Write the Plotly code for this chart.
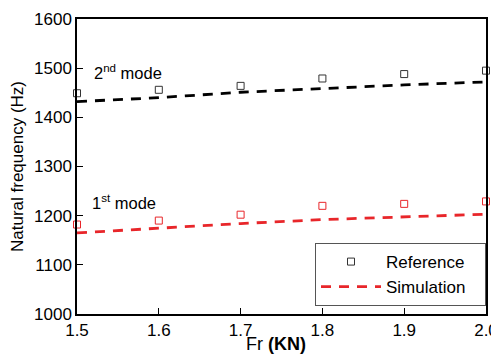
import plotly.graph_objects as go

fr = [1.5, 1.6, 1.7, 1.8, 1.9, 2.0]
ref_mode2 = [1449, 1456, 1464, 1479, 1488, 1495]
sim_mode2 = [1432, 1440, 1451, 1459, 1466, 1472]
ref_mode1 = [1182, 1190, 1202, 1220, 1224, 1229]
sim_mode1 = [1165, 1175, 1184, 1192, 1197, 1203]
x_ticks = ["1.5", "1.6", "1.7", "1.8", "1.9", "2.0"]
y_ticks = [1000, 1100, 1200, 1300, 1400, 1500, 1600]

font = "Liberation Sans, Arial, sans-serif"
red = "#e8262a"
nb = "\u00a0"

fig = go.Figure()
fig.add_trace(go.Scatter(x=fr, y=sim_mode2, mode="lines", showlegend=False,
                         line=dict(color="black", width=2.8, dash="10px,8px")))
fig.add_trace(go.Scatter(x=fr, y=sim_mode1, mode="lines", name="Simulation" + nb * 3,
                         line=dict(color=red, width=2.8, dash="10px,8px")))
fig.add_trace(go.Scatter(x=fr, y=ref_mode2, mode="markers", name="Reference" + nb * 3,
                         marker=dict(symbol="square-open", size=7, color="#333333",
                                     line=dict(width=1)), cliponaxis=False))
fig.add_trace(go.Scatter(x=fr, y=ref_mode1, mode="markers", showlegend=False,
                         marker=dict(symbol="square-open", size=7, color=red,
                                     line=dict(width=1)), cliponaxis=False))

fig.add_annotation(x=1.518, y=1493, xanchor="left", yanchor="middle", showarrow=False,
                   text="2<sup>nd</sup> mode", font=dict(size=16.5, color="black", family=font))
fig.add_annotation(x=1.516, y=1228, xanchor="left", yanchor="middle", showarrow=False,
                   text="1<sup>st</sup> mode", font=dict(size=16.5, color="black", family=font))
# x-axis title placed as annotation for precise position
fig.add_annotation(xref="paper", yref="paper", x=0.487, y=-0.1, xanchor="center",
                   yanchor="middle", showarrow=False, text="Fr <b>(KN)</b>",
                   font=dict(size=18, color="black", family=font))

axis_common = dict(showline=True, linecolor="black", linewidth=1.5, mirror=True,
                   ticks="inside", ticklen=6, tickwidth=1.2, tickcolor="black",
                   showgrid=False, zeroline=False, automargin=False,
                   tickfont=dict(size=17, color="black", family=font))

fig.update_xaxes(range=[1.5, 2.0], tickvals=fr, ticktext=x_ticks, **axis_common)
fig.update_yaxes(range=[1000, 1600], tickvals=y_ticks,
                 title=dict(text="Natural frequency (Hz)", font=dict(size=17, color="black", family=font),
                            standoff=6),
                 **axis_common)

fig.update_layout(
    width=491, height=348,
    margin=dict(l=69, r=13, t=11, b=42),
    paper_bgcolor="white", plot_bgcolor="white",
    font=dict(family=font, color="black"),
    legend=dict(x=1, y=0.027, xanchor="right", yanchor="bottom",
                bgcolor="white", bordercolor="#555555", borderwidth=1,
                font=dict(size=17, color="black", family=font),
                traceorder="reversed", itemwidth=60, tracegroupgap=0),
)

fig.write_html("out.html")
